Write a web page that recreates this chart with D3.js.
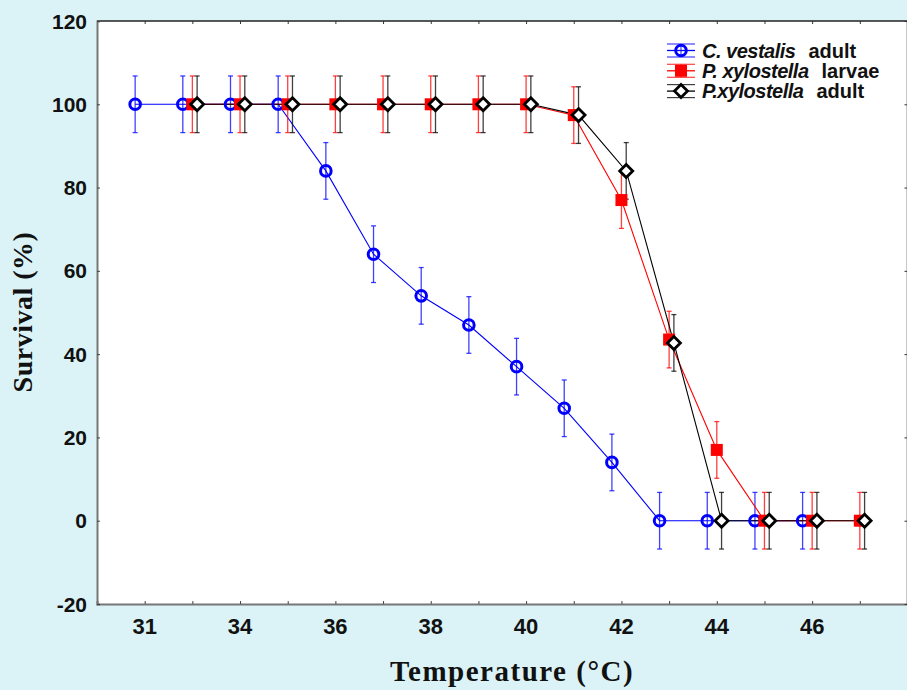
<!DOCTYPE html>
<html>
<head>
<meta charset="utf-8">
<script src="https://cdn.jsdelivr.net/npm/d3@7"></script>
<style>
  html, body { margin: 0; padding: 0; background: #dbf3f7; }
  svg { display: block; }
</style>
</head>
<body>
<div id="chart"></div>
<script>
//Width and height
var width = 907, height = 690;

//tick values + labels (first label reads 31 in the original)
const xTicks = [32,33,34,35,36,37,38,39,40,41,42,43,44,45,46,47];
const xLabelAt = [32,34,36,38,40,42,44,46];
const xLabelText = ["31","34","36","38","40","42","44","46"];
const yTicks = [-20,0,20,40,60,80,100,120];

//C. vestalis adult
const cvTemp = [32,33,34,35,36,37,38,39,40,41,42,43,44,45,46];
const cvSurv = [100,100,100,100,84,64,54,47,37,27,14,0,0,0,0];
const cvErr  = [6.8,6.8,6.8,6.8,6.8,6.8,6.8,6.8,6.8,6.8,6.8,6.8,6.8,6.8,6.8];

//P. xylostella larvae
const plTemp = [33,34,35,36,37,38,39,40,41,42,43,44,45,46,47];
const plSurv = [100,100,100,100,100,100,100,100,97.4,77,43.5,17,0,0,0];
const plErr  = [6.8,6.8,6.8,6.8,6.8,6.8,6.8,6.8,6.8,6.8,6.8,6.8,6.8,6.8,6.8];

//P. xylostella adult
const paTemp = [33,34,35,36,37,38,39,40,41,42,43,44,45,46,47];
const paSurv = [100,100,100,100,100,100,100,100,97.4,84,42.7,0,0,0,0];
const paErr  = [6.8,6.8,6.8,6.8,6.8,6.8,6.8,6.8,6.8,6.8,6.8,6.8,6.8,6.8,6.8];

const seriesNames = [["C. vestalis", "adult"], ["P. xylostella", "larvae"], ["P.xylostella", "adult"]];

//plot box ("top" is taken by window.top, so prefix)
var pLeft = 97, pRight = 907.5, pTop = 21, pBottom = 604;

var svg = d3.select("#chart")
  .append("svg")
  .attr("width", width)
  .attr("height", height)
  .attr("viewBox", [0, 0, width, height]);

svg.append("rect")
  .attr("width", width).attr("height", height)
  .attr("fill", "#dbf3f7");

let x = d3.scaleLinear().domain([31, 48]).range([pLeft, pRight]);
let y = d3.scaleLinear().domain([-20, 120]).range([pBottom, pTop]);

//white plot area
svg.append("rect")
  .attr("x", pLeft).attr("y", pTop)
  .attr("width", pRight - pLeft).attr("height", pBottom - pTop)
  .attr("fill", "#ffffff");

//frame: top/right dark, left/bottom grey
svg.append("line").attr("x1", pLeft).attr("x2", pRight).attr("y1", pTop).attr("y2", pTop)
  .attr("stroke", "#222").attr("stroke-width", 1.5);
svg.append("line").attr("x1", pRight).attr("x2", pRight).attr("y1", pTop).attr("y2", pBottom)
  .attr("stroke", "#222").attr("stroke-width", 1.5);

//axes with inward ticks
let xAxis = d3.axisBottom(x).tickValues(xTicks).tickSize(-3).tickPadding(0).tickFormat("");
let gx = svg.append("g").attr("transform", `translate(0,${pBottom})`).call(xAxis);
gx.select(".domain").attr("stroke", "#777").attr("stroke-width", 2);
gx.selectAll(".tick line").attr("stroke", "#444").attr("stroke-width", 1);

let xTopAxis = d3.axisTop(x).tickValues(xTicks).tickSize(-3).tickFormat("");
let gxt = svg.append("g").attr("transform", `translate(0,${pTop})`).call(xTopAxis);
gxt.select(".domain").remove();
gxt.selectAll(".tick line").attr("stroke", "#333");

let yAxis = d3.axisLeft(y).tickValues(yTicks).tickSize(-3).tickFormat("");
let gy = svg.append("g").attr("transform", `translate(${pLeft},0)`).call(yAxis);
gy.select(".domain").attr("stroke", "#777").attr("stroke-width", 2);
gy.selectAll(".tick line").attr("stroke", "#444");

let yRightAxis = d3.axisRight(y).tickValues(yTicks).tickSize(-3).tickFormat("");
let gyr = svg.append("g").attr("transform", `translate(${pRight},0)`).call(yRightAxis);
gyr.select(".domain").remove();
gyr.selectAll(".tick line").attr("stroke", "#333");

//tick labels
svg.selectAll(null)
  .data(xLabelAt)
  .enter()
  .append("text")
  .attr("x", d => x(d))
  .attr("y", 634)
  .attr("text-anchor", "middle")
  .attr("font-family", "Liberation Sans, Arial, sans-serif")
  .attr("font-weight", "bold")
  .attr("font-size", "22px")
  .attr("fill", "#111")
  .text((d, i) => xLabelText[i]);

svg.selectAll(null)
  .data(yTicks)
  .enter()
  .append("text")
  .attr("x", 87)
  .attr("y", d => y(d) + 7.5)
  .attr("text-anchor", "end")
  .attr("font-family", "Liberation Sans, Arial, sans-serif")
  .attr("font-weight", "bold")
  .attr("font-size", "21px")
  .attr("fill", "#111")
  .text(d => d);

//axis titles
svg.append("text")
  .attr("x", 512)
  .attr("y", 681)
  .attr("text-anchor", "middle")
  .attr("font-family", "Liberation Serif, Times New Roman, serif")
  .attr("font-weight", "bold")
  .attr("font-size", "29px")
  .attr("letter-spacing", "1.5px")
  .attr("fill", "#111")
  .text("Temperature (°C)");

svg.append("text")
  .attr("transform", "translate(32,312) rotate(-90)")
  .attr("text-anchor", "middle")
  .attr("font-family", "Liberation Serif, Times New Roman, serif")
  .attr("font-weight", "bold")
  .attr("font-size", "28px")
  .attr("letter-spacing", "0.5px")
  .attr("fill", "#111")
  .text("Survival (%)");

//series setup
var series = [
  {temp: cvTemp, surv: cvSurv, err: cvErr, color: "#0000ff", shift: -0.2, shape: "circle"},
  {temp: plTemp, surv: plSurv, err: plErr, color: "#ff0000", shift: 0, shape: "square"},
  {temp: paTemp, surv: paSurv, err: paErr, color: "#000000", shift: 0.1, shape: "diamond"}
];

let line = d3.line().x(d => d[0]).y(d => d[1]);

function drawMarker(g, shape, color, cx, cy) {
  if (shape == "circle") {
    g.append("circle").attr("cx", cx).attr("cy", cy).attr("r", 5.3)
      .attr("fill", "none").attr("stroke", color).attr("stroke-width", 3);
  } else if (shape == "square") {
    g.append("rect").attr("x", cx - 6).attr("y", cy - 6).attr("width", 12).attr("height", 12)
      .attr("fill", color);
  } else {
    g.append("path").attr("d", `M${cx},${cy-6.5}L${cx+6.5},${cy}L${cx},${cy+6.5}L${cx-6.5},${cy}Z`)
      .attr("fill", "#fff").attr("stroke", color).attr("stroke-width", 2.8);
  }
}

//lines + error bars
for (let s of series) {
  let pts = s.temp.map((t, i) => [x(t + s.shift), y(s.surv[i])]);
  svg.append("path")
    .attr("d", line(pts))
    .attr("fill", "none")
    .attr("stroke", s.color)
    .attr("stroke-width", 1.1);

  let bars = svg.append("g").attr("stroke", s.color).attr("stroke-opacity", 0.75).attr("stroke-width", 1.3);
  s.temp.forEach((t, i) => {
    let cx = x(t + s.shift), y0 = y(s.surv[i] - s.err[i]), y1 = y(s.surv[i] + s.err[i]);
    bars.append("line").attr("x1", cx).attr("x2", cx).attr("y1", y0).attr("y2", y1);
    bars.append("line").attr("x1", cx - 2.5).attr("x2", cx + 2.5).attr("y1", y0).attr("y2", y0);
    bars.append("line").attr("x1", cx - 2.5).attr("x2", cx + 2.5).attr("y1", y1).attr("y2", y1);
  });
}

//markers on top
for (let s of series) {
  let g = svg.append("g");
  s.temp.forEach((t, i) => drawMarker(g, s.shape, s.color, x(t + s.shift), y(s.surv[i])));
}

//legend
var legend = svg.append("g");
series.forEach((s, i) => {
  let cy = 50.5 + i * 20.3, x0 = 667, x1 = 695, mid = 681;
  let g = legend.append("g");
  g.append("g").attr("stroke", s.color).attr("stroke-opacity", 0.75).attr("stroke-width", 1.2)
    .call(gg => {
      gg.append("line").attr("x1", x0).attr("x2", x1).attr("y1", cy - 6.5).attr("y2", cy - 6.5);
      gg.append("line").attr("x1", x0).attr("x2", x1).attr("y1", cy + 6.5).attr("y2", cy + 6.5);
      gg.append("line").attr("x1", mid).attr("x2", mid).attr("y1", cy - 6.5).attr("y2", cy + 6.5);
    });
  g.append("line").attr("x1", x0).attr("x2", x1).attr("y1", cy).attr("y2", cy)
    .attr("stroke", s.color).attr("stroke-width", 1.3);
  drawMarker(g, s.shape, s.color, mid, cy);

  let txt = g.append("text")
    .attr("x", 702)
    .attr("y", cy + 7)
    .attr("font-family", "Liberation Sans, Arial, sans-serif")
    .attr("font-weight", "bold")
    .attr("font-size", "20px")
    .attr("fill", "#111");
  txt.append("tspan").attr("font-style", "italic").attr("letter-spacing", "-0.5px").text(seriesNames[i][0]);
  txt.append("tspan").attr("dx", 13).text(seriesNames[i][1]);
});
</script>
</body>
</html>
